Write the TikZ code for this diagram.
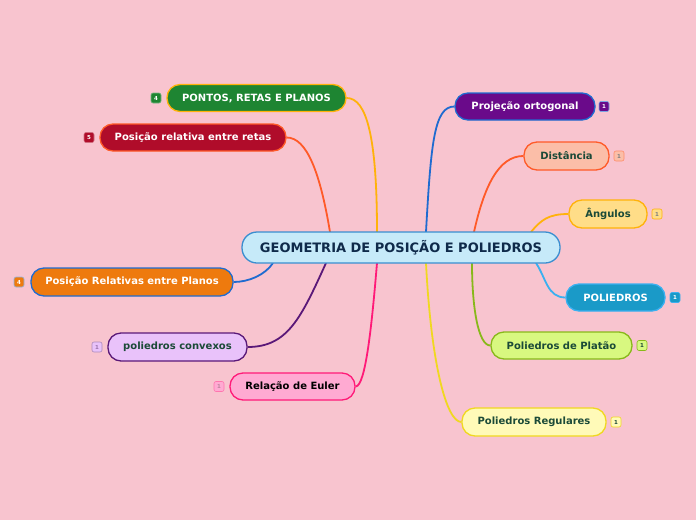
\documentclass[tikz,border=0pt]{standalone}
\usepackage{fontspec}
\setmainfont{DejaVu Sans}
\usepackage{xcolor}
\usepackage{tikz}
\usetikzlibrary{backgrounds}
\definecolor{PinkBg}{HTML}{F8C4CF}
\definecolor{RootFill}{HTML}{C6EAF9}
\definecolor{RootLine}{HTML}{3A8ED0}
\definecolor{RootText}{HTML}{0F2A4A}
\definecolor{DarkText}{HTML}{1B4A38}
\definecolor{GreenFill}{HTML}{1E8532}
\definecolor{AmberLine}{HTML}{FFB20A}
\definecolor{CrimsonFill}{HTML}{B00C2A}
\definecolor{OrangeLine}{HTML}{FF5A28}
\definecolor{OrangeFill}{HTML}{EE7A0E}
\definecolor{BlueLine}{HTML}{1F6BD0}
\definecolor{LilacFill}{HTML}{E9C2FA}
\definecolor{PlumLine}{HTML}{5A1878}
\definecolor{RoseFill}{HTML}{FFAAD2}
\definecolor{RoseLine}{HTML}{FF1A78}
\definecolor{PurpleFill}{HTML}{6A0A8A}
\definecolor{SalmonFill}{HTML}{FBBEA8}
\definecolor{SandFill}{HTML}{FFDD88}
\definecolor{TealFill}{HTML}{1A9AC8}
\definecolor{SkyLine}{HTML}{3AB0F0}
\definecolor{LimeFill}{HTML}{D8F880}
\definecolor{LimeLine}{HTML}{88B81A}
\definecolor{CreamFill}{HTML}{FFFAB8}
\definecolor{YellowLine}{HTML}{F0D820}

\begin{document}
\begin{tikzpicture}[x=1pt,y=-1pt,
    topic/.style={draw,line width=1.3pt,rounded corners=13pt,minimum height=27pt,
      inner sep=0pt,font=\fontsize{10}{12}\selectfont\bfseries},
    badge/.style={draw,line width=0.6pt,rounded corners=2pt,minimum size=10pt,
      inner sep=0pt,font=\fontsize{5.5}{6}\selectfont\bfseries},
    link/.style={line width=1.8pt}]
  \useasboundingbox (0,0) rectangle (696,520);

  % central topic
  \node[topic,fill=RootFill,draw=RootLine,text=RootText,minimum width=318pt,minimum height=31pt,
    rounded corners=15pt,font=\fontsize{13}{15}\selectfont\bfseries] (root) at (401,247.5)
    {GEOMETRIA DE POSIÇÃO E POLIEDROS};

  % left side
  \node[topic,fill=GreenFill,draw=AmberLine,text=white,minimum width=179pt] (pontos) at (256.5,98)
    {PONTOS, RETAS E PLANOS};
  \node[badge,fill=GreenFill,draw=GreenFill!60,text=white] (b-pontos) at (156,98) {4};
  \node[topic,fill=CrimsonFill,draw=OrangeLine,text=white,minimum width=186pt] (retas) at (193,137.5)
    {Posição relativa entre retas};
  \node[badge,fill=CrimsonFill,draw=CrimsonFill!60,text=white] (b-retas) at (89,137.5) {5};
  \node[topic,fill=OrangeFill,draw=BlueLine,text=white,minimum width=202pt,minimum height=28pt] (planos) at (132,282)
    {Posição Relativas entre Planos};
  \node[badge,fill=OrangeFill,draw=BlueLine!50,text=white] (b-planos) at (19,282) {4};
  \node[topic,fill=LilacFill,draw=PlumLine,text=DarkText,minimum width=139pt,minimum height=28pt] (convexos) at (177.5,347)
    {poliedros convexos};
  \node[badge,fill=LilacFill,draw=PlumLine!50,text=PlumLine!60] (b-convexos) at (97,347) {1};
  \node[topic,fill=RoseFill,draw=RoseLine,text=black,minimum width=125pt] (euler) at (292.5,386.5)
    {Relação de Euler};
  \node[badge,fill=RoseFill,draw=RoseLine!60,text=RoseLine!50!black!50] (b-euler) at (219,386.5) {1};

  % right side
  \node[topic,fill=PurpleFill,draw=BlueLine,text=white,minimum width=140pt] (projecao) at (525,106.5)
    {Projeção ortogonal};
  \node[badge,fill=PurpleFill,draw=BlueLine!60,text=white] (b-projecao) at (604,106.5) {1};
  \node[topic,fill=SalmonFill,draw=OrangeLine,text=DarkText,minimum width=85pt,minimum height=28pt] (distancia) at (566.5,156)
    {Distância};
  \node[badge,fill=SalmonFill,draw=OrangeLine!70,text=gray] (b-distancia) at (619,156) {1};
  \node[topic,fill=SandFill,draw=AmberLine,text=DarkText,minimum width=78pt,minimum height=28pt] (angulos) at (608,214)
    {Ângulos};
  \node[badge,fill=SandFill,draw=AmberLine,text=gray] (b-angulos) at (657,214) {1};
  \node[topic,fill=TealFill,draw=SkyLine,text=white,minimum width=99pt] (poliedros) at (615.5,297.5)
    {POLIEDROS};
  \node[badge,fill=TealFill,draw=SkyLine,text=white] (b-poliedros) at (675,297.5) {1};
  \node[topic,fill=LimeFill,draw=LimeLine,text=DarkText,minimum width=141pt] (platao) at (561.5,345.5)
    {Poliedros de Platão};
  \node[badge,fill=LimeFill,draw=LimeLine,text=DarkText] (b-platao) at (642,345.5) {1};
  \node[topic,fill=CreamFill,draw=YellowLine,text=DarkText,minimum width=144pt,minimum height=28pt] (regulares) at (534,422)
    {Poliedros Regulares};
  \node[badge,fill=CreamFill,draw=YellowLine,text=DarkText] (b-regulares) at (616,422) {1};

  % branches from the root
  \coordinate (r-pontos) at (377,232);
  \coordinate (r-retas) at (330,232);
  \coordinate (r-planos) at (273,263);
  \coordinate (r-convexos) at (326,263);
  \coordinate (r-euler) at (377,263);
  \coordinate (r-projecao) at (426,232);
  \coordinate (r-distancia) at (474,232);
  \coordinate (r-angulos) at (531,232);
  \coordinate (r-poliedros) at (536,263);
  \coordinate (r-platao) at (472,263);
  \coordinate (r-regulares) at (426,263);

  \begin{scope}[on background layer]
    \fill[PinkBg] (0,0) rectangle (696,520);
    \draw[link,AmberLine] (r-pontos) .. controls +(0,-95) and +(20,0) .. (pontos.east);
    \draw[link,OrangeLine] (r-retas) .. controls +(-10,-60) and +(20,0) .. (retas.east);
    \draw[link,BlueLine] (r-planos) .. controls +(-8,12) and +(15,0) .. (planos.east);
    \draw[link,PlumLine] (r-convexos) .. controls +(-25,55) and +(40,0) .. (convexos.east);
    \draw[link,RoseLine] (r-euler) .. controls +(-5,60) and +(10,0) .. (euler.east);
    \draw[link,BlueLine] (r-projecao) .. controls +(5,-90) and +(-20,0) .. (projecao.west);
    \draw[link,OrangeLine] (r-distancia) .. controls +(10,-45) and +(-25,0) .. (distancia.west);
    \draw[link,AmberLine] (r-angulos) .. controls +(10,-12) and +(-20,0) .. (angulos.west);
    \draw[link,SkyLine] (r-poliedros) .. controls +(10,15) and +(-18,0) .. (poliedros.west);
    \draw[link,LimeLine] (r-platao) .. controls +(0,45) and +(-12,0) .. (platao.west);
    \draw[link,YellowLine] (r-regulares) .. controls +(5,100) and +(-15,0) .. (regulares.west);
  \end{scope}
\end{tikzpicture}
\end{document}
